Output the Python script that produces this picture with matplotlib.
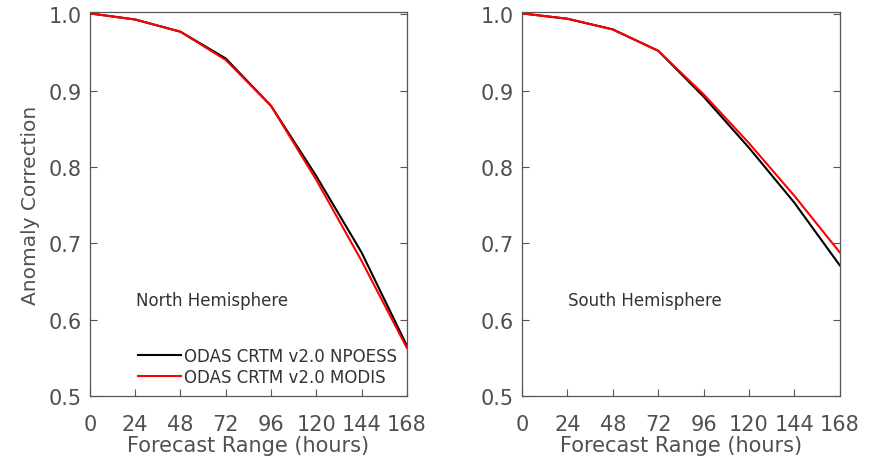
import matplotlib
matplotlib.use("Agg")
import matplotlib.pyplot as plt

hours = [0, 24, 48, 72, 96, 120, 144, 168]
xtick_labels = ["0", "24", "48", "72", "96", "120", "144", "168"]
yticks = [0.5, 0.6, 0.7, 0.8, 0.9, 1.0]

nh_npoess = [1.001, 0.993, 0.977, 0.942, 0.880, 0.788, 0.688, 0.566]
nh_modis = [1.001, 0.993, 0.977, 0.940, 0.880, 0.783, 0.677, 0.563]
sh_npoess = [1.001, 0.994, 0.980, 0.952, 0.892, 0.825, 0.753, 0.671]
sh_modis = [1.001, 0.994, 0.980, 0.952, 0.895, 0.831, 0.762, 0.688]

labels = ["ODAS CRTM v2.0 NPOESS", "ODAS CRTM v2.0 MODIS"]
colors = ["black", "red"]

TXT = "#505050"
plt.rcParams["font.family"] = "DejaVu Sans"

fig = plt.figure(figsize=(8.73, 4.6), dpi=100)
ax1 = fig.add_axes([0.103, 0.137, 0.363, 0.835])
ax2 = fig.add_axes([0.598, 0.137, 0.364, 0.835])


def style(ax):
    ax.set_xlim(0, 168)
    ax.set_ylim(0.5, 1.003)
    ax.set_xticks(hours)
    ax.set_xticklabels(xtick_labels)
    ax.set_yticks(yticks)
    ax.set_yticklabels([f"{v:.1f}" for v in yticks])
    ax.tick_params(direction="in", length=5, width=0.8, colors="#555555",
                   labelcolor=TXT, labelsize=15, right=True, top=False)
    ax.tick_params(axis="x", pad=13)
    ax.tick_params(axis="y", pad=6)
    for s in ax.spines.values():
        s.set_color("#555555")
        s.set_linewidth(0.9)
    ax.set_xlabel("Forecast Range (hours)", fontsize=15, color=TXT, labelpad=1)


style(ax1)
style(ax2)

ax1.plot(hours, nh_npoess, color=colors[0], lw=1.5, label=labels[0])
ax1.plot(hours, nh_modis, color=colors[1], lw=1.5, label=labels[1])
ax2.plot(hours, sh_npoess, color=colors[0], lw=1.5)
ax2.plot(hours, sh_modis, color=colors[1], lw=1.5)

ax1.set_ylabel("Anomaly Correction", fontsize=14.5, color=TXT, labelpad=6)

ax1.text(0.145, 0.25, "North Hemisphere", transform=ax1.transAxes,
         fontsize=12, color="#333333", va="center")
ax2.text(0.145, 0.25, "South Hemisphere", transform=ax2.transAxes,
         fontsize=12, color="#333333", va="center")

leg = ax1.legend(loc="lower right", bbox_to_anchor=(1.0, 0.0), frameon=False,
                 fontsize=12, handlelength=2.6, handletextpad=0.15,
                 labelspacing=0.2, borderaxespad=0.2)
for t in leg.get_texts():
    t.set_color("#333333")

fig.savefig("out.png", dpi=100)
